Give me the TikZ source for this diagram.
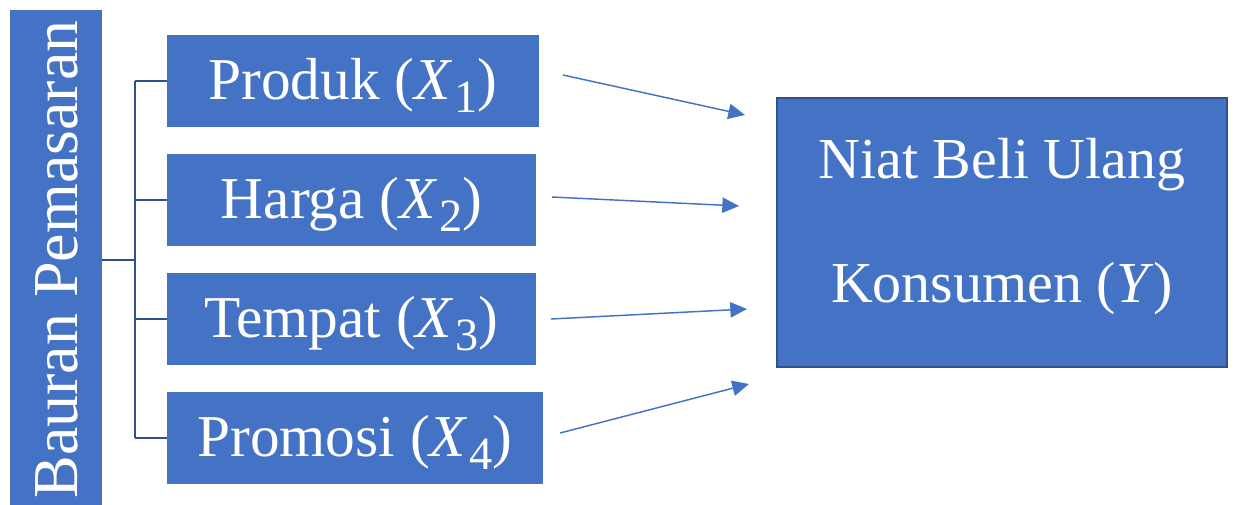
\documentclass[tikz,border=0pt]{standalone}
\usepackage{fontspec}
\setmainfont{Liberation Serif}
\usepackage{graphicx}
\usetikzlibrary{arrows.meta}

\definecolor{boxblue}{HTML}{4472C4}
\definecolor{lineblue}{HTML}{2F528F}

% variable name with a lowered index: X_1, X_2, ...
\newcommand\varidx[2]{\textit{#1}\kern0.03em\raisebox{-0.22em}{\scalebox{0.78}{#2}}}

\begin{document}
\begin{tikzpicture}[x=0.75pt,y=-0.75pt,
  varbox/.style={fill=boxblue, text=white, inner sep=0pt,
    font=\fontsize{44.5}{50}\selectfont, text height=27.5pt, text depth=0pt},
  goalbox/.style={fill=boxblue, draw=lineblue, line width=1.5pt, inner sep=0pt},
  goaltext/.style={text=white, inner sep=0pt, anchor=base,
    font=\fontsize{43.5}{50}\selectfont},
  bracket/.style={draw=lineblue, line width=2.2pt},
  link/.style={draw=boxblue, line width=1.1pt,
    -{Triangle[length=12.5pt,width=11.5pt]}}
]
\useasboundingbox (0,0) rectangle (1235,504);

% marketing-mix bar on the left
\node[fill=boxblue, minimum width=69pt, minimum height=372pt, inner sep=0pt]
  (bar) at (56,258) {};
\node[rotate=90, text=white, inner sep=0pt, anchor=base,
  font=\fontsize{48}{50}\selectfont] (bartext) at (77,259.5) {Bauran Pemasaran};

% the four independent variables
\node[varbox, minimum width=279pt, minimum height=69pt] (x1) at (353,81) {Produk (\varidx{X}{1})};
\node[varbox, minimum width=276.75pt, minimum height=69pt] (x2) at (351.5,200) {Harga (\varidx{X}{2})};
\node[varbox, minimum width=276.75pt, minimum height=69pt] (x3) at (351.5,319) {Tempat (\varidx{X}{3})};
\node[varbox, minimum width=282pt, minimum height=69pt] (x4) at (355,438) {Promosi (\varidx{X}{4})};

% dependent variable
\node[goalbox, minimum width=337.5pt, minimum height=201.75pt] (y) at (1002,232.5) {};
\node[goaltext] (y1) at (1002,178) {Niat Beli Ulang};
\node[goaltext] (y2) at (1002,302) {Konsumen (\textit{Y})};

% bracket joining the bar to the variables
\coordinate (hub) at (135,260);
\coordinate (spinetop) at (135,81);
\coordinate (spinebot) at (135,438);
\draw[bracket] (bar.east |- hub) -- (hub);
\draw[bracket] (spinetop) -- (spinebot);
\draw[bracket] (spinetop) -- (x1.west);
\draw[bracket] (spinetop |- x2.west) -- (x2.west);
\draw[bracket] (spinetop |- x3.west) -- (x3.west);
\draw[bracket] (spinebot) -- (x4.west);

% influence arrows
\coordinate (s1) at (563,75);  \coordinate (e1) at (745,115);
\coordinate (s2) at (552,197); \coordinate (e2) at (739,206);
\coordinate (s3) at (551,319); \coordinate (e3) at (747,309);
\coordinate (s4) at (560,433); \coordinate (e4) at (749,384);
\draw[link] (s1) -- (e1);
\draw[link] (s2) -- (e2);
\draw[link] (s3) -- (e3);
\draw[link] (s4) -- (e4);
\end{tikzpicture}
\end{document}
